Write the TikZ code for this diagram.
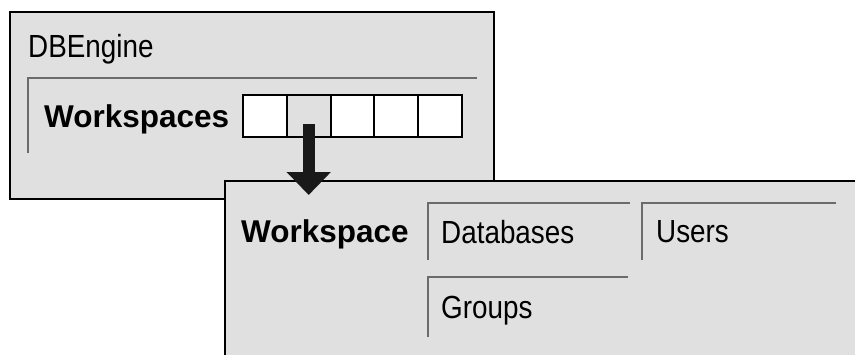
\documentclass[tikz,border=0pt]{standalone}
\usepackage{fontspec}
\setmainfont{Liberation Sans}
\newfontfamily\winfont[FakeStretch=0.87]{Liberation Sans}
\usetikzlibrary{arrows.meta}
\definecolor{panel}{gray}{0.88}
\definecolor{framegray}{gray}{0.42}
\tikzset{
  panelbox/.style={draw=black, line width=2pt, fill=panel, anchor=north west, inner sep=0pt, outer sep=0pt},
  framelin/.style={draw=framegray, line width=1.1pt},
  lbl/.style={font=\winfont\fontsize{32}{32}\selectfont, inner sep=0pt, anchor=base west},
  blbl/.style={font=\bfseries\fontsize{31.5}{32}\selectfont, inner sep=0pt, anchor=base west},
  cell/.style={draw=black, line width=2pt, fill=white, minimum width=43.8pt, minimum height=42pt, inner sep=0pt, outer sep=0pt},
  bigarrow/.style={draw=black!90, line width=12pt, -{Triangle[width=43pt,length=23pt]}}
}
\begin{document}
\begin{tikzpicture}[x=1pt,y=-1pt]
\useasboundingbox (0,0) rectangle (855,354);
\fill[white] (0,0) rectangle (855,354);
\clip (0,0) rectangle (855,354);
% DBEngine panel
\node[panelbox, minimum width=484pt, minimum height=187pt] (engine) at (10,12) {};
\draw[framelin] (28,153) |- (477,78);
\node[lbl] (title) at (28,57) {DBEngine};
\node[blbl] (wss) at (44,127) {Workspaces};
\node[cell] (c1) at (264.9,116) {};
\node[cell, fill=panel] (c2) at (308.7,116) {};
\node[cell] (c3) at (352.5,116) {};
\node[cell] (c4) at (396.3,116) {};
\node[cell] (c5) at (440.1,116) {};
% Workspace panel
\node[panelbox, minimum width=645pt, minimum height=185pt] (ws) at (225,181) {};
\draw[framelin] (428,260) |- (630,203);
\draw[framelin] (642,260) |- (836,203);
\draw[framelin] (428,337) |- (628,277);
\node[blbl] (wsl) at (241,242) {Workspace};
\node[lbl] (db) at (441,243) {Databases};
\node[lbl] (us) at (656,242) {Users};
\node[lbl] (gr) at (441,318) {Groups};
% arrow
\coordinate (tip) at (308.7,195);
\draw[bigarrow] ([yshift=-8pt]c2.center) -- (tip);
\end{tikzpicture}
\end{document}
